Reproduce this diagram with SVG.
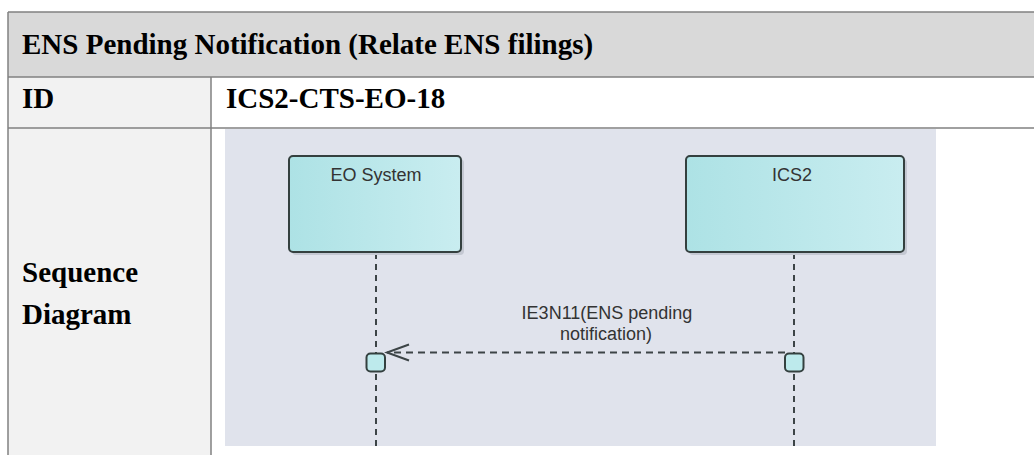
<svg xmlns="http://www.w3.org/2000/svg" width="1034" height="455" viewBox="0 0 1034 455">
<defs>
<style>
.tbl{font-family:"Liberation Serif","Times New Roman",serif;font-weight:bold;font-size:29px;fill:#000}
.grid{stroke:#808080;stroke-width:1.5;fill:none}
.lbl{font-family:"Liberation Sans",Arial,sans-serif;font-size:18px;fill:#333}
.life{stroke:#3c4446;stroke-width:2;stroke-dasharray:6 5;fill:none}
.msg{stroke:#3c4446;stroke-width:2;stroke-dasharray:7 5;fill:none}
.node{stroke:#34403f;stroke-width:2;fill:url(#g)}
.shadow{fill:#c4c8d2}
.act{stroke:#34403f;stroke-width:2;fill:#bdeaec}
</style>
<linearGradient id="g" x1="0" y1="0" x2="1" y2="0">
<stop offset="0" stop-color="#ade2e5"/>
<stop offset="1" stop-color="#c9edf0"/>
</linearGradient>
<marker id="open" markerWidth="24" markerHeight="20" refX="0" refY="0" orient="auto" markerUnits="userSpaceOnUse" overflow="visible">
<path d="M-22,-8 L0,0 L-22,8" fill="none" stroke="#3c4446" stroke-width="2"/>
</marker>
</defs>
<rect x="0" y="0" width="1034" height="455" fill="#ffffff"/>
<g id="table">
<rect x="8" y="12" width="1026" height="65" fill="#d9d9d9"/>
<rect x="8" y="77" width="203" height="378" fill="#f2f2f2"/>
<line class="grid" x1="8" y1="12" x2="1034" y2="12"/>
<line class="grid" x1="8" y1="77" x2="1034" y2="77"/>
<line class="grid" x1="8" y1="128" x2="1034" y2="128"/>
<line class="grid" x1="8" y1="12" x2="8" y2="455"/>
<line class="grid" x1="211" y1="77" x2="211" y2="455"/>
<text class="tbl" x="22" y="54">ENS Pending Notification (Relate ENS filings)</text>
<text class="tbl" x="22" y="108">ID</text>
<text class="tbl" x="226" y="108">ICS2-CTS-EO-18</text>
<text class="tbl" x="22" y="282">Sequence<tspan x="22" y="324">Diagram</tspan></text>
</g>
<rect x="225" y="129" width="711" height="317" fill="#e0e3ec"/>
<g id="connectors">
<line class="life" x1="376" y1="253" x2="376" y2="446"/>
<line class="life" x1="794" y1="253" x2="794" y2="446"/>
<line class="msg" x1="785" y1="352.5" x2="387" y2="352.5" marker-end="url(#open)"/>
<text class="lbl" text-anchor="middle"><tspan x="607" y="318.5">IE3N11(ENS pending</tspan><tspan x="606" y="339.5">notification)</tspan></text>
</g>
<g id="eo-system">
<rect class="shadow" x="292" y="159" width="172" height="96" rx="4"/>
<rect class="node" x="289" y="156" width="172" height="96" rx="4"/>
<text class="lbl" x="376" y="181" text-anchor="middle">EO System</text>
</g>
<g id="ics2">
<rect class="shadow" x="689" y="159" width="218" height="96" rx="4"/>
<rect class="node" x="686" y="156" width="218" height="96" rx="4"/>
<text class="lbl" x="792" y="181" text-anchor="middle">ICS2</text>
</g>
<g id="eo-activation">
<rect class="act" x="366.5" y="353.5" width="18.5" height="18" rx="4"/>
</g>
<g id="ics2-activation">
<rect class="act" x="785" y="353.5" width="18.5" height="18" rx="4"/>
</g>
</svg>
